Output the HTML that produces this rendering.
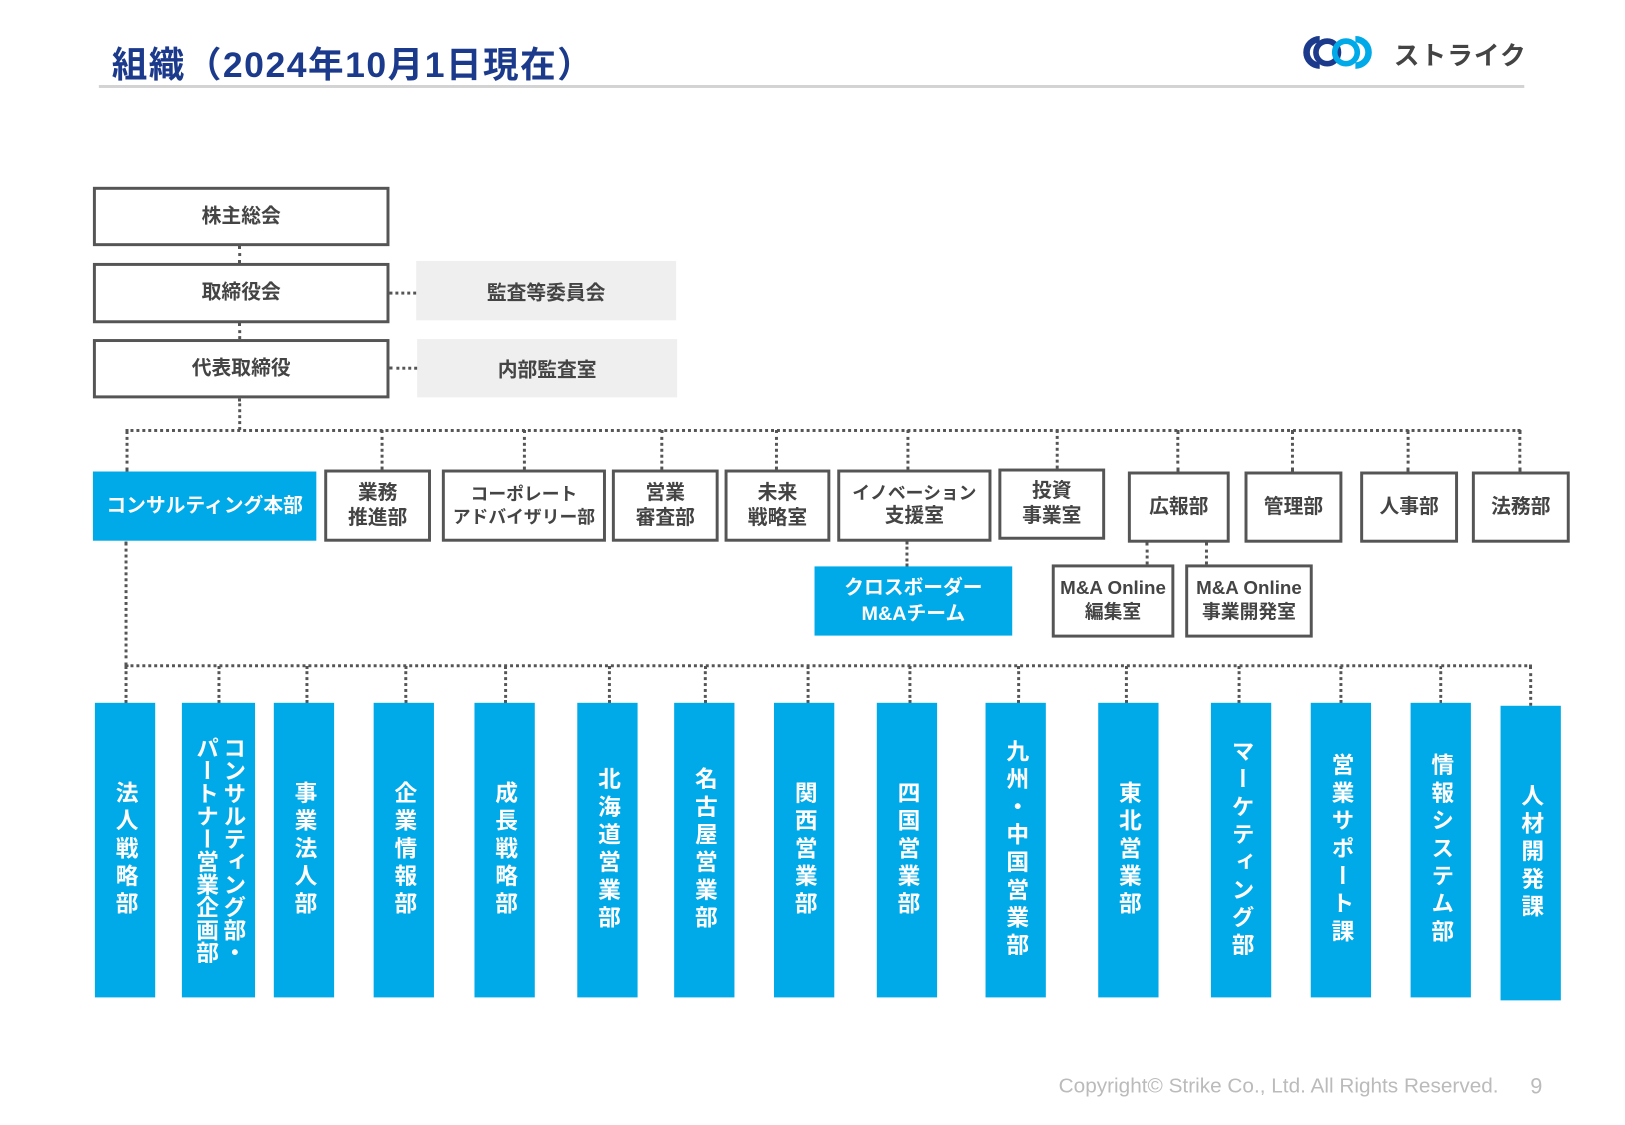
<!DOCTYPE html>
<html><head><meta charset="utf-8">
<style>
body{margin:0;background:#fff;}
#page{position:relative;width:1625px;height:1125px;overflow:hidden;background:#fff;font-family:"Liberation Sans","Noto Sans CJK JP",sans-serif;}
#wrap{position:absolute;left:0;top:0;width:1645px;height:1140px;transform:scale(0.9885);transform-origin:0 0;}
.a{position:absolute;box-sizing:border-box;}
.box{border:3px solid #555;background:#fff;color:#444;font-weight:bold;font-size:20px;display:flex;align-items:center;justify-content:center;text-align:center;line-height:1.25;white-space:nowrap;}
.gray{background:#efefef;color:#444;font-weight:bold;font-size:20px;display:flex;align-items:center;justify-content:center;}
.blue{background:#00a9e8;color:#fff;font-weight:bold;font-size:20px;display:flex;align-items:center;justify-content:center;text-align:center;line-height:1.3;white-space:nowrap;}
.vl{border-left:3px dotted #555;width:0;}
.hl{border-top:3px dotted #555;height:0;}
.bar{background:#00a9e8;color:#fff;font-weight:bold;font-size:23px;display:flex;align-items:center;justify-content:center;}
.bar span{writing-mode:vertical-rl;letter-spacing:5px;line-height:1.05;}
</style></head><body>
<div id="page">
<div id="wrap">
<div class="a" style="left:113px;top:37px;font-size:36px;font-weight:bold;color:#1b3a8c;white-space:nowrap;letter-spacing:1.5px;">組織（2024年10月1日現在）</div>
<div class="a" style="left:100px;top:86px;width:1442px;height:3px;background:#d3d3d3;"></div>
<svg class="a" style="left:1312px;top:34px" width="86" height="38" viewBox="0 0 86 40">
<path d="M22 6 A14 14 0 1 0 22 34" fill="none" stroke="#1b3a8c" stroke-width="7"/>
<path d="M30 8 A12 12 0 0 0 30 32 A12 12 0 0 0 30 8" fill="none" stroke="#1b3a8c" stroke-width="6"/>
<path d="M50 8 A12 12 0 0 1 50 32 A12 12 0 0 1 50 8" fill="none" stroke="#00a9e8" stroke-width="6"/>
<path d="M60 6 A14 14 0 1 1 60 34" fill="none" stroke="#00a9e8" stroke-width="7"/>
</svg>
<div class="a" style="left:1410px;top:36px;font-size:26px;font-weight:bold;color:#444;letter-spacing:1px;">ストライク</div>

<div class="a box" style="left:94px;top:189px;width:300px;height:60px;">株主総会</div>
<div class="a box" style="left:94px;top:266px;width:300px;height:61px;">取締役会</div>
<div class="a box" style="left:94px;top:343px;width:300px;height:60px;">代表取締役</div>
<div class="a gray" style="left:421px;top:264px;width:263px;height:60px;">監査等委員会</div>
<div class="a gray" style="left:422px;top:343px;width:263px;height:59px;">内部監査室</div>
<div class="a vl" style="left:241px;top:249px;height:17px;"></div>
<div class="a vl" style="left:241px;top:327px;height:16px;"></div>
<div class="a vl" style="left:241px;top:403px;height:32px;"></div>
<div class="a hl" style="left:394px;top:295px;width:27px;"></div>
<div class="a hl" style="left:394px;top:371px;width:28px;"></div>

<div class="a hl" style="left:127px;top:434px;width:1411px;"></div>
<div class="a vl" style="left:127px;top:435px;height:42px;"></div>
<div class="a vl" style="left:385px;top:435px;height:40px;"></div>
<div class="a vl" style="left:529px;top:435px;height:40px;"></div>
<div class="a vl" style="left:668px;top:435px;height:40px;"></div>
<div class="a vl" style="left:784px;top:435px;height:40px;"></div>
<div class="a vl" style="left:917px;top:435px;height:40px;"></div>
<div class="a vl" style="left:1068px;top:435px;height:39px;"></div>
<div class="a vl" style="left:1190px;top:435px;height:42px;"></div>
<div class="a vl" style="left:1306px;top:435px;height:42px;"></div>
<div class="a vl" style="left:1423px;top:435px;height:42px;"></div>
<div class="a vl" style="left:1536px;top:435px;height:42px;"></div>

<div class="a blue" style="left:94px;top:477px;width:226px;height:70px;font-size:20px;">コンサルティング本部</div>
<div class="a box" style="left:328px;top:475px;width:108px;height:73px;">業務<br>推進部</div>
<div class="a box" style="left:447px;top:475px;width:166px;height:73px;font-size:18px;">コーポレート<br>アドバイザリー部</div>
<div class="a box" style="left:619px;top:475px;width:108px;height:73px;">営業<br>審査部</div>
<div class="a box" style="left:733px;top:475px;width:107px;height:73px;">未来<br>戦略室</div>
<div class="a box" style="left:847px;top:475px;width:156px;height:73px;font-size:18px;"><div>イノベーション<br><span style="font-size:20px">支援室</span></div></div>
<div class="a box" style="left:1010px;top:474px;width:108px;height:72px;">投資<br>事業室</div>
<div class="a box" style="left:1141px;top:477px;width:103px;height:72px;">広報部</div>
<div class="a box" style="left:1259px;top:477px;width:99px;height:72px;">管理部</div>
<div class="a box" style="left:1376px;top:477px;width:99px;height:72px;">人事部</div>
<div class="a box" style="left:1489px;top:477px;width:99px;height:72px;">法務部</div>

<div class="a vl" style="left:916px;top:548px;height:25px;"></div>
<div class="a vl" style="left:1159px;top:549px;height:22px;"></div>
<div class="a vl" style="left:1219px;top:549px;height:22px;"></div>
<div class="a blue" style="left:824px;top:573px;width:200px;height:70px;">クロスボーダー<br>M&amp;Aチーム</div>
<div class="a box" style="left:1064px;top:571px;width:124px;height:74px;font-size:19px;">M&amp;A Online<br>編集室</div>
<div class="a box" style="left:1199px;top:571px;width:129px;height:74px;font-size:19px;">M&amp;A Online<br>事業開発室</div>

<div class="a vl" style="left:126px;top:548px;height:126px;"></div>
<div class="a hl" style="left:127px;top:672px;width:1423px;"></div>

<div class="a" style="left:1071px;top:1087px;font-size:21px;color:#bbb;white-space:nowrap;">Copyright© Strike Co., Ltd. All Rights Reserved.</div>
<div class="a" style="left:1548px;top:1086px;font-size:22px;color:#bbb;">9</div>
</div>
</div>
<script>
const names=["法人戦略部","コンサルティング部・パートナー営業企画部","事業法人部","企業情報部","成長戦略部","北海道営業部","名古屋営業部","関西営業部","四国営業部","九州・中国営業部","東北営業部","マーケティング部","営業サポート課","情報システム部","人材開発課"];
const xs=[96,184,277,378,480,584,682,783,887,997,1111,1225,1326,1427,1518];
const ws=[61,74,61,61,61,61,61,61,61,61,61,61,61,61,61];
const cx=[127,221,310,410,511,616,713,817,920,1030,1139,1253,1356,1457,1548];
const wrap=document.getElementById('wrap');
for(let i=0;i<names.length;i++){
  const c=document.createElement('div');
  c.className='a vl';
  
  
  c.style.left=(cx[i]-1)+'px';c.style.top='674px';c.style.height=(i==14?'40px':'37px');
  wrap.appendChild(c);
  const b=document.createElement('div');
  b.className='a bar';
  
  
  b.style.left=xs[i]+'px';b.style.width=ws[i]+'px';
  b.style.top=(i==14?714:711)+'px';b.style.height='298px';
  const s=document.createElement('span');
  if(i==1){s.innerHTML='コンサルティング部・<br>パートナー営業企画部';s.style.letterSpacing='0px';s.style.lineHeight='1.2';}
  else s.textContent=names[i];
  b.appendChild(s);
  wrap.appendChild(b);
}
</script>
</body></html>
